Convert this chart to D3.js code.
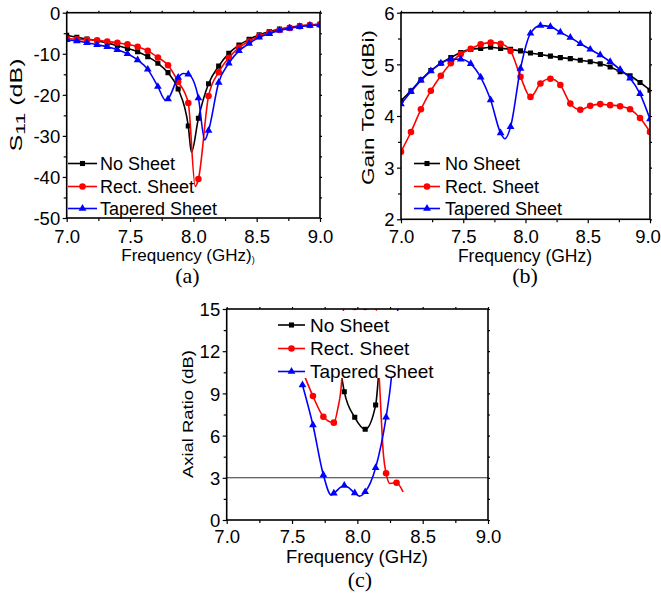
<!DOCTYPE html>
<html><head><meta charset="utf-8">
<script src="https://cdn.jsdelivr.net/npm/d3@7"></script>
<style>body{margin:0;background:#fff}</style>
</head><body><svg id="chart" width="661" height="594"></svg>
<script>
// ---------------- DATA ----------------
const freqGrid = [7.00,7.08,7.16,7.24,7.32,7.40,7.48,7.56,7.64,7.72,7.80,7.88,7.96,8.04,8.12,8.20,8.28,8.36,8.44,8.52,8.60,8.68,8.76,8.84,8.92,9.00];

// (a) S11 (dB)
const s11NoSheet = [-5.5,-6.0,-6.4,-6.8,-7.4,-8.0,-8.7,-9.5,-10.7,-12.3,-14.6,-18.6,-27.6,-25.7,-17.3,-13.0,-9.9,-7.9,-6.5,-5.4,-4.6,-4.0,-3.6,-3.2,-3.0,-2.8];
const s11NoSheetExtra = [[7.985,-34.0]];
const s11Rect = [-6.3,-6.5,-6.6,-6.7,-7.0,-7.3,-7.7,-8.3,-9.3,-10.9,-12.8,-16.8,-22.0,-40.5,-20.3,-14.5,-11.0,-8.5,-7.0,-5.7,-4.8,-4.2,-3.7,-3.3,-3.0,-2.9];
const s11RectExtra = [[8.015,-42.3]];
const s11Tapered = [-6.6,-6.9,-7.3,-7.8,-8.3,-9.0,-10.0,-11.5,-13.8,-18.0,-21.0,-15.8,-15.0,-20.8,-28.7,-17.0,-12.3,-9.3,-7.5,-6.0,-5.1,-4.3,-3.8,-3.4,-3.1,-3.0];
const s11TaperedExtra = [[7.78,-21.3],[7.92,-14.8],[8.09,-31.0]];

// (b) Gain Total (dBi)
const gainNoSheet = [4.30,4.49,4.70,4.88,5.02,5.13,5.23,5.29,5.31,5.33,5.31,5.29,5.26,5.22,5.19,5.16,5.13,5.11,5.08,5.05,5.01,4.95,4.86,4.78,4.65,4.50];
const gainRect = [3.31,3.69,4.13,4.49,4.78,5.02,5.20,5.30,5.39,5.42,5.40,5.26,4.76,4.37,4.63,4.72,4.60,4.24,4.12,4.20,4.23,4.21,4.19,4.13,3.96,3.69];
const gainTapered = [4.23,4.47,4.69,4.87,5.02,5.10,5.10,5.01,4.75,4.31,3.67,3.79,4.92,5.60,5.75,5.73,5.62,5.52,5.40,5.29,5.18,5.05,4.90,4.73,4.43,3.94];
const gainTaperedExtra = [[7.835,3.56]];

// (c) Axial Ratio (dB)
const arFreq = [7.58,7.66,7.74,7.82,7.90,7.98,8.06,8.14,8.22,8.30];
const arNoSheet = [null,null,null,null,9.12,7.30,6.45,8.17,null,null];
const arNoSheetExtra = [[7.86,11.4],[8.17,11.4]];
const arRect = [10.6,8.81,7.34,6.92,16.5,15.15,15.15,15.2,3.32,2.65];
const arRectExtra = [[7.85,7.9],[7.88,9.9],[8.17,9.7],[8.20,4.6],[8.25,2.6],[8.35,2.0]];
const arTapered = [9.6,6.75,3.2,1.9,2.45,1.92,2.0,3.72,7.3,null];
const arTaperedExtra = [[7.80,1.78],[8.015,1.7],[8.25,9.24],[8.31,15.0],[8.33,16.6]];
const arThreshold = 3;

const seriesNames = ["No Sheet","Rect. Sheet","Tapered Sheet"];
const xMajor = [7.0,7.5,8.0,8.5,9.0];
const xMinor = [7.25,7.75,8.25,8.75];
const yTicksA = [-50,-40,-30,-20,-10,0];
const yMinorA = [-45,-35,-25,-15,-5];
const yTicksB = [2,3,4,5,6];
const yMinorB = [2.5,3.5,4.5,5.5];
const yTicksC = [0,3,6,9,12,15];
const yMinorC = [1.5,4.5,7.5,10.5,13.5];

// ---------------- STYLE ----------------
const colors = ["#000000","#ff0000","#0000ff"];
const shapes = [d3.symbolSquare, d3.symbolCircle, d3.symbolTriangle];
const shapeSize = [26,34,26];
const SANS = '"Liberation Sans", Arial, sans-serif';
const SERIF = '"Liberation Serif", "Times New Roman", serif';

const svg = d3.select("#chart");
svg.append("rect").attr("width",661).attr("height",594).attr("fill","#fff");

function buildLine(freqs, vals, extra){
  return freqs.map((f,i)=>[f,vals[i]]).filter(d=>d[1]!=null).concat(extra||[]).sort((a,b)=>a[0]-b[0]);
}
function buildMarks(freqs, vals){
  return freqs.map((f,i)=>[f,vals[i]]).filter(d=>d[1]!=null);
}

function panel(cfg){
  const g = svg.append("g");
  const x = d3.scaleLinear().domain([7,9]).range([cfg.l,cfg.r]);
  const y = d3.scaleLinear().domain(cfg.yDomain).range([cfg.b,cfg.t]);
  const clipId = "clip"+cfg.id;
  svg.append("clipPath").attr("id",clipId).append("rect")
    .attr("x",cfg.l).attr("y",cfg.t).attr("width",cfg.r-cfg.l).attr("height",cfg.b-cfg.t);

  const pg = g.append("g").attr("clip-path",`url(#${clipId})`);
  if (cfg.refLine != null){
    pg.append("line").attr("x1",cfg.l).attr("x2",cfg.r)
      .attr("y1",y(cfg.refLine)).attr("y2",y(cfg.refLine))
      .attr("stroke","#333").attr("stroke-width",1.1);
  }
  const line = d3.line().x(d=>x(d[0])).y(d=>y(d[1])).curve(d3.curveMonotoneX);
  cfg.series.forEach((s,i)=>{
    pg.append("path").datum(buildLine(s.freqs,s.vals,s.extra))
      .attr("d",line).attr("fill","none").attr("stroke",colors[i]).attr("stroke-width",1.6);
    pg.selectAll(null).data(buildMarks(s.freqs,s.vals)).enter().append("path")
      .attr("d",d3.symbol().type(shapes[i]).size(shapeSize[i]))
      .attr("transform",d=>`translate(${x(d[0])},${y(d[1])})`)
      .attr("fill",colors[i]);
  });

  // legend
  const L = cfg.legend;
  const lg = g.append("g");
  if (L.box){
    lg.append("rect").attr("x",L.box[0]).attr("y",L.box[1]).attr("width",L.box[2]).attr("height",L.box[3]).attr("fill","#fff");
  }
  seriesNames.forEach((n,i)=>{
    const yy = L.rows[i];
    lg.append("line").attr("x1",L.x1).attr("x2",L.x2).attr("y1",yy).attr("y2",yy)
      .attr("stroke",colors[i]).attr("stroke-width",1.6);
    lg.append("path").attr("d",d3.symbol().type(shapes[i]).size(shapeSize[i]))
      .attr("transform",`translate(${(L.x1+L.x2)/2},${yy})`).attr("fill",colors[i]);
    lg.append("text").attr("x",L.tx).attr("y",yy).attr("dy","0.36em")
      .attr("font-family",SANS).attr("font-size",L.fs).attr("fill","#000").text(n);
  });

  // axes
  function styleAxis(sel){
    sel.select(".domain").remove();
    sel.selectAll("line").attr("stroke","#000").attr("stroke-width",1.2);
    sel.selectAll("text").attr("font-family",SANS).attr("fill","#000");
  }
  const xb = g.append("g").attr("transform",`translate(0,${cfg.b})`)
    .call(d3.axisBottom(x).tickValues(xMajor).tickSize(4).tickSizeOuter(0).tickFormat(d3.format(".1f")));
  styleAxis(xb);
  xb.selectAll("text").attr("font-size",cfg.tickFs).attr("y",cfg.xLabOff).attr("dy",0)
    .attr("dx",d=>(d===9 && cfg.lastShift)?cfg.lastShift:0);
  styleAxis(g.append("g").attr("transform",`translate(0,${cfg.b})`)
    .call(d3.axisBottom(x).tickValues(xMinor).tickSize(3).tickSizeOuter(0).tickFormat("")));
  styleAxis(g.append("g").attr("transform",`translate(0,${cfg.t})`)
    .call(d3.axisTop(x).tickValues(xMajor.concat(xMinor)).tickSize(2).tickSizeOuter(0).tickFormat("")));
  const yl = g.append("g").attr("transform",`translate(${cfg.l},0)`)
    .call(d3.axisLeft(y).tickValues(cfg.yTicks).tickSize(4).tickSizeOuter(0).tickFormat(d=>String(d)));
  styleAxis(yl);
  yl.selectAll("text").attr("font-size",cfg.tickFs).attr("x",-6.5).attr("dy","0.36em");
  styleAxis(g.append("g").attr("transform",`translate(${cfg.l},0)`)
    .call(d3.axisLeft(y).tickValues(cfg.yMinor).tickSize(3).tickSizeOuter(0).tickFormat("")));
  styleAxis(g.append("g").attr("transform",`translate(${cfg.r},0)`)
    .call(d3.axisRight(y).tickValues(cfg.yTicks.concat(cfg.yMinor)).tickSize(2).tickSizeOuter(0).tickFormat("")));

  g.append("rect").attr("x",cfg.l).attr("y",cfg.t).attr("width",cfg.r-cfg.l).attr("height",cfg.b-cfg.t)
    .attr("fill","none").attr("stroke","#000").attr("stroke-width",1.6);

  // titles
  const xt = g.append("text").attr("x",cfg.xTitle[0]).attr("y",cfg.xTitle[1]).attr("text-anchor","middle")
    .attr("font-family",SANS).attr("font-size",cfg.xTitle[2]).attr("fill","#000").text("Frequency (GHz)");
  if (cfg.xTitleExtra) xt.append("tspan").attr("font-size",9).attr("dy",2).text(")");
  const yt = g.append("text")
    .attr("transform",`translate(${cfg.yTitle[0]},${cfg.yTitle[1]}) rotate(-90)`)
    .attr("text-anchor","middle").attr("dy","0.36em")
    .attr("font-family",SANS).attr("font-size",cfg.yTitle[2]).attr("fill","#000")
    .attr("textLength",cfg.yTitle[3]).attr("lengthAdjust","spacingAndGlyphs");
  cfg.yTitleParts.forEach(p=>{
    const t = yt.append("tspan").text(p.t);
    if (p.sub) t.attr("font-size",cfg.yTitle[2]*0.85).attr("dy",3);
    if (p.after) t.attr("dy",-3);
  });
  g.append("text").attr("x",cfg.label[0]).attr("y",cfg.label[1]).attr("text-anchor","middle")
    .attr("font-family",SERIF).attr("font-size",22).attr("fill","#000").text(cfg.label[2]);
}

panel({
  id:"a", l:66.7, r:320, t:12.7, b:218, yDomain:[-50,0], yTicks:yTicksA, yMinor:yMinorA,
  tickFs:18.5, xLabOff:25, 
  series:[{freqs:freqGrid,vals:s11NoSheet,extra:s11NoSheetExtra},
          {freqs:freqGrid,vals:s11Rect,extra:s11RectExtra},
          {freqs:freqGrid,vals:s11Tapered,extra:s11TaperedExtra}],
  legend:{x1:68,x2:97,tx:100,rows:[163.5,186.5,208.5],fs:18},
  xTitle:[188,261,17], xTitleExtra:true,
  yTitle:[16,105,16,93], yTitleParts:[{t:"S"},{t:"11",sub:true},{t:" (dB)",after:true}],
  label:[187.5,283,"(a)"]
});
panel({
  id:"b", l:401, r:650, t:12.7, b:219.3, yDomain:[2,6], yTicks:yTicksB, yMinor:yMinorB,
  tickFs:18.5, xLabOff:24.2, lastShift:-2.5,
  series:[{freqs:freqGrid,vals:gainNoSheet,extra:[]},
          {freqs:freqGrid,vals:gainRect,extra:[]},
          {freqs:freqGrid,vals:gainTapered,extra:gainTaperedExtra}],
  legend:{x1:414,x2:440,tx:445,rows:[163.5,186.5,208.5],fs:18},
  xTitle:[525,261.5,17.5],
  yTitle:[368,107.5,16,155], yTitleParts:[{t:"Gain Total (dBi)"}],
  label:[525,283,"(b)"]
});
panel({
  id:"c", l:226.7, r:488, t:309, b:520, yDomain:[0,15], yTicks:yTicksC, yMinor:yMinorC,
  tickFs:18.5, xLabOff:23, refLine:arThreshold,
  series:[{freqs:arFreq,vals:arNoSheet,extra:arNoSheetExtra},
          {freqs:arFreq,vals:arRect,extra:arRectExtra},
          {freqs:arFreq,vals:arTapered,extra:arTaperedExtra}],
  legend:{x1:278,x2:305,tx:310,rows:[325,348.5,371.5],fs:19,box:[276,311,164,67]},
  xTitle:[357,562.5,18.5],
  yTitle:[188,414,15,128], yTitleParts:[{t:"Axial Ratio (dB)"}],
  label:[360,587,"(c)"]
});
</script>
</body></html>
